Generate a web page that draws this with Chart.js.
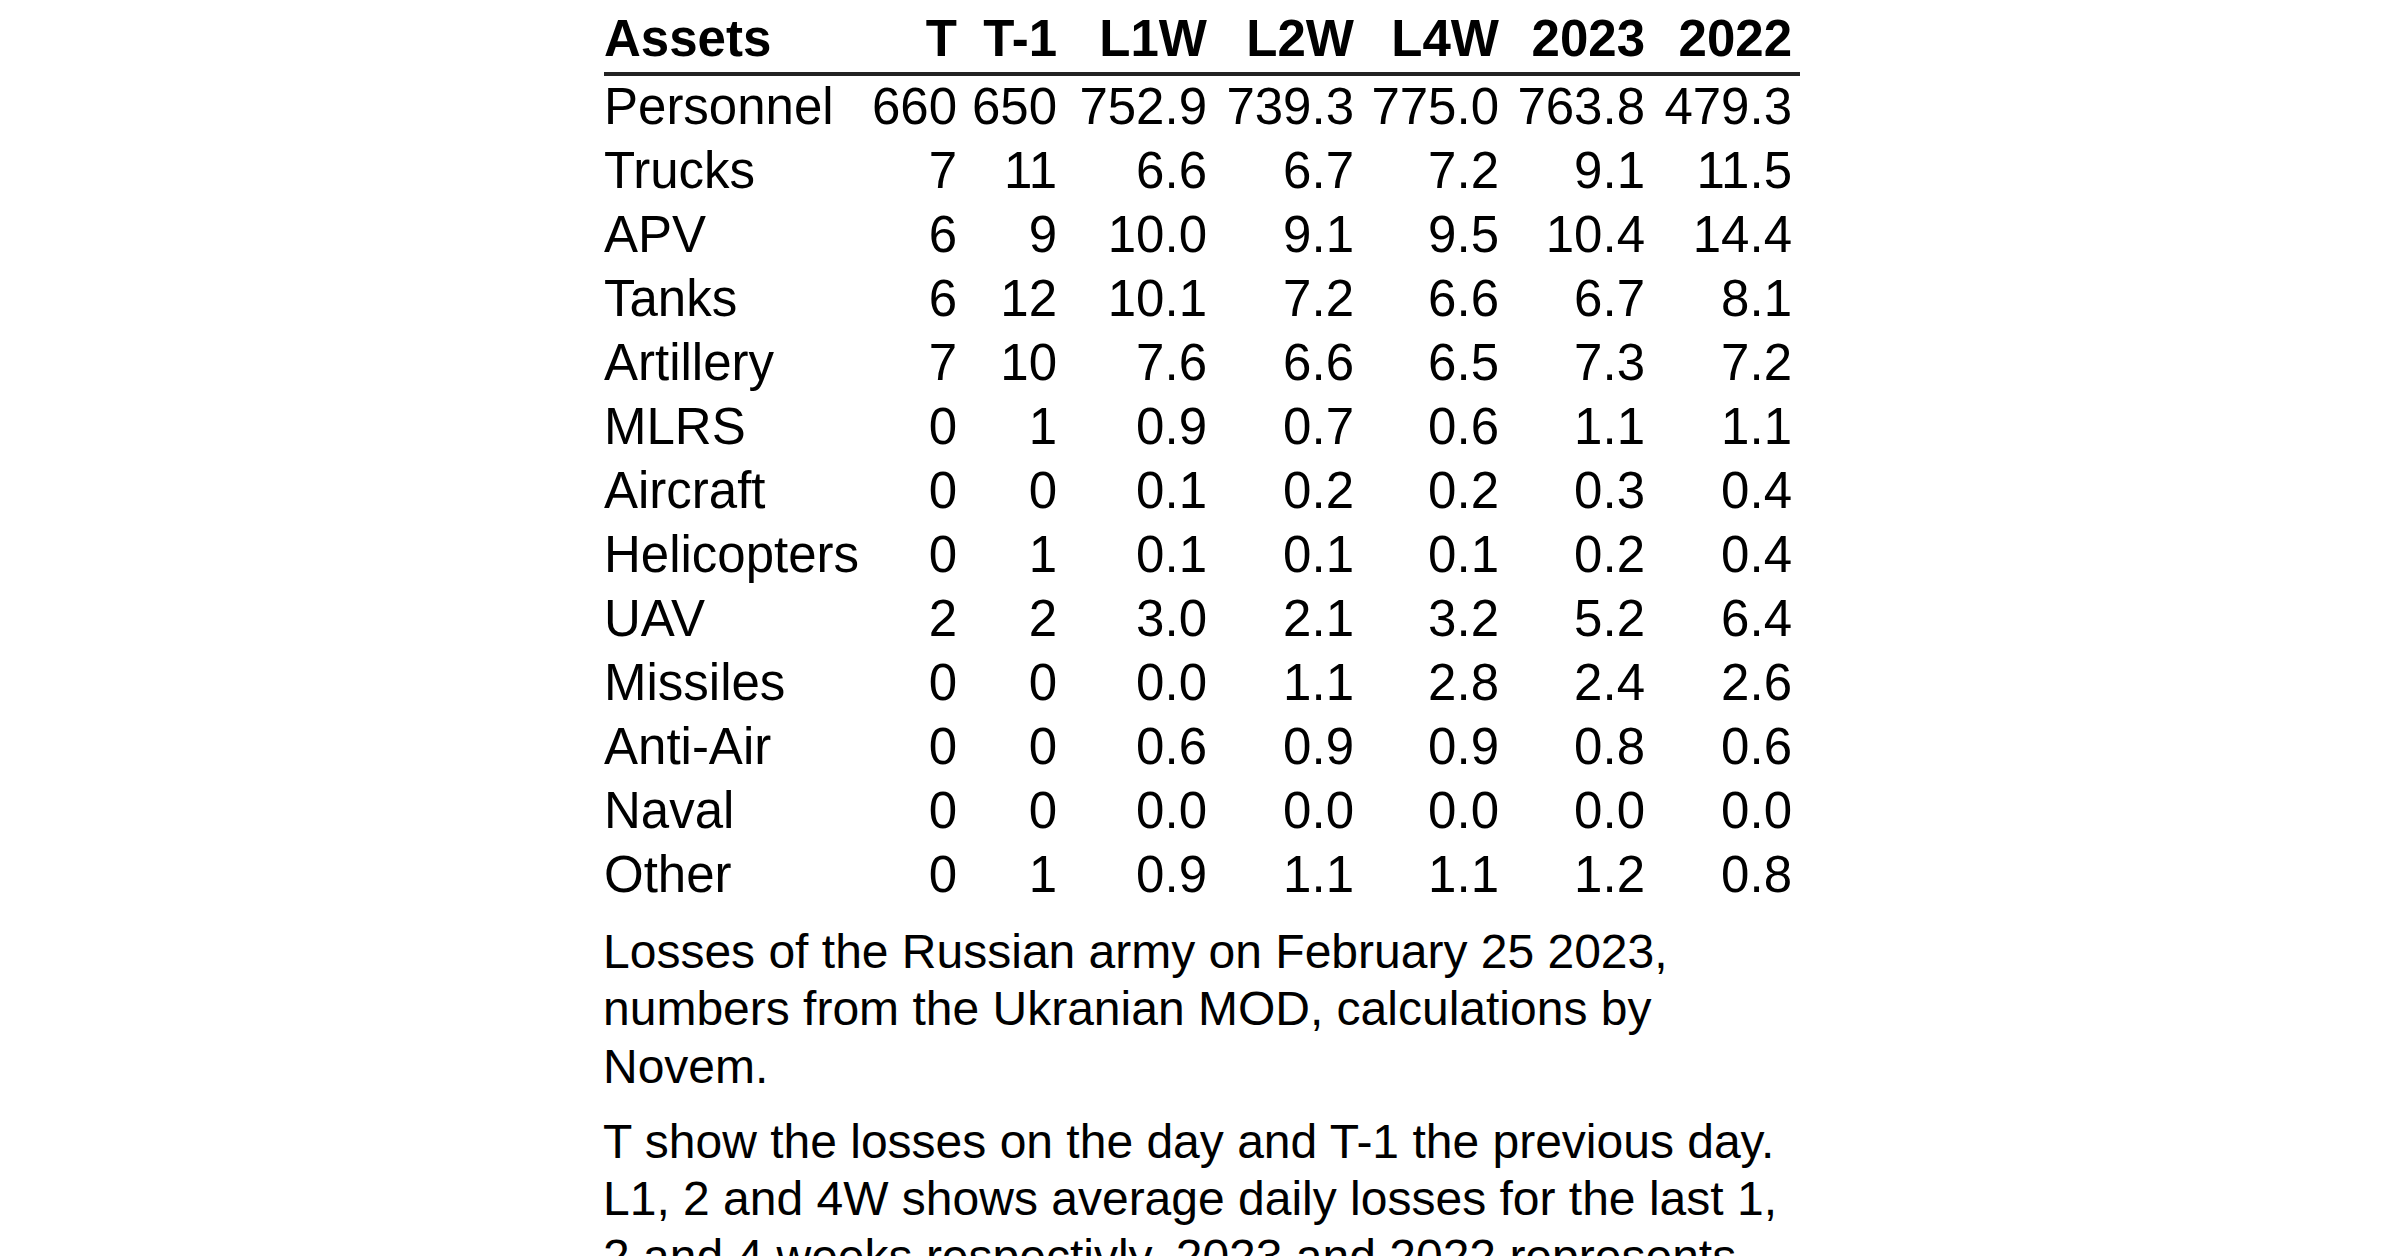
<!DOCTYPE html>
<html>
<head>
<meta charset="utf-8">
<title>Losses of the Russian army</title>
<script src="https://cdn.jsdelivr.net/npm/chart.js@4.4.1/dist/chart.umd.min.js"></script>
<style>
  html, body { margin: 0; padding: 0; background: #fff; }
  body { width: 2400px; height: 1256px; overflow: hidden; position: relative; }
  #tableWrap { position: absolute; left: 604px; top: 0; width: 1196px; height: 910px; }
  #caption {
    position: absolute; left: 603px; top: 922.6px; width: 1200px;
    font-family: "Liberation Sans", Arial, sans-serif; font-size: 48px;
    line-height: 57.5px; color: #000;
  }
  #caption p { margin: 0 0 17.5px 0; white-space: nowrap; }
</style>
</head>
<body>
<div id="tableWrap"><canvas id="lossTable"></canvas></div>
<div id="caption">
  <p>Losses of the Russian army on February 25 2023,<br>numbers from the Ukranian MOD, calculations by<br>Novem.</p>
  <p>T show the losses on the day and T-1 the previous day.<br>L1, 2 and 4W shows average daily losses for the last 1,<br>2 and 4 weeks respectivly, 2023 and 2022 represents</p>
</div>
<script>
"use strict";

// table data
const assets = ['Personnel', 'Trucks', 'APV', 'Tanks', 'Artillery', 'MLRS', 'Aircraft',
                'Helicopters', 'UAV', 'Missiles', 'Anti-Air', 'Naval', 'Other'];
const columns = ['T', 'T-1', 'L1W', 'L2W', 'L4W', '2023', '2022'];

const lossT    = [660, 7, 6, 6, 7, 0, 0, 0, 2, 0, 0, 0, 0];
const lossT1   = [650, 11, 9, 12, 10, 1, 0, 1, 2, 0, 0, 0, 1];
const avgL1W   = [752.9, 6.6, 10.0, 10.1, 7.6, 0.9, 0.1, 0.1, 3.0, 0.0, 0.6, 0.0, 0.9];
const avgL2W   = [739.3, 6.7, 9.1, 7.2, 6.6, 0.7, 0.2, 0.1, 2.1, 1.1, 0.9, 0.0, 1.1];
const avgL4W   = [775.0, 7.2, 9.5, 6.6, 6.5, 0.6, 0.2, 0.1, 3.2, 2.8, 0.9, 0.0, 1.1];
const avg2023  = [763.8, 9.1, 10.4, 6.7, 7.3, 1.1, 0.3, 0.2, 5.2, 2.4, 0.8, 0.0, 1.2];
const avg2022  = [479.3, 11.5, 14.4, 8.1, 7.2, 1.1, 0.4, 0.4, 6.4, 2.6, 0.6, 0.0, 0.8];

const series = [lossT, lossT1, avgL1W, avgL2W, avgL4W, avg2023, avg2022];
const decimals = [0, 0, 1, 1, 1, 1, 1];

// layout: width of the name column and of every value column (px)
const nameColWidth = 353 - 85;
const colWidths = [85, 100, 150, 147, 145, 146, 147];
const tableWidth = 1196;

const FONT = '"Liberation Sans", Arial, sans-serif';
const FONT_SIZE = 51;
const capShift = FONT_SIZE * 0.358;   // puts the cap height centred on the row
const headerLift = 4;                 // header sits a bit higher above the rule

// right edge of each value column, on the x scale
const colRight = [];
colWidths.reduce((acc, w) => { colRight.push(acc + w); return acc + w; }, nameColWidth);

const datasets = [{
  label: 'Assets',
  align: 'left',
  data: assets.map(a => ({ x: 0, y: a, text: a }))
}];
columns.forEach((col, c) => {
  datasets.push({
    label: col,
    align: 'right',
    data: assets.map((a, i) => ({ x: colRight[c], y: a, text: series[c][i].toFixed(decimals[c]) }))
  });
});

// draws header, rule and cell texts at the points placed by the scales
const tableText = {
  id: 'tableText',
  afterDatasetsDraw(chart) {
    const { ctx, chartArea, scales: { y } } = chart;
    ctx.save();
    ctx.fillStyle = '#000';
    ctx.textBaseline = 'alphabetic';

    const headerY = y.getPixelForValue(0);
    const firstY = y.getPixelForValue(1);
    ctx.font = 'bold ' + FONT_SIZE + 'px ' + FONT;
    chart.data.datasets.forEach((ds, di) => {
      const pt = chart.getDatasetMeta(di).data[0];
      ctx.textAlign = ds.align;
      ctx.fillText(ds.label, pt.x, headerY + capShift - headerLift);
    });

    ctx.strokeStyle = '#222';
    ctx.lineWidth = 4;
    ctx.beginPath();
    const ruleY = (headerY + firstY) / 2;
    ctx.moveTo(chartArea.left, ruleY);
    ctx.lineTo(chartArea.right, ruleY);
    ctx.stroke();

    ctx.font = FONT_SIZE + 'px ' + FONT;
    chart.data.datasets.forEach((ds, di) => {
      ctx.textAlign = ds.align;
      chart.getDatasetMeta(di).data.forEach((pt, i) => {
        ctx.fillText(ds.data[i].text, pt.x, pt.y + capShift);
      });
    });
    ctx.restore();
  }
};

new Chart(document.getElementById('lossTable'), {
  type: 'scatter',
  data: { datasets },
  options: {
    responsive: true,
    maintainAspectRatio: false,
    animation: false,
    events: [],
    layout: { padding: { top: 10, bottom: 4, left: 0, right: 0 } },
    elements: { point: { radius: 0, hoverRadius: 0 } },
    plugins: { legend: { display: false }, tooltip: { enabled: false } },
    scales: {
      x: { type: 'linear', min: 0, max: tableWidth, display: false },
      y: { type: 'category', labels: ['Assets', ...assets], offset: true, display: false }
    }
  },
  plugins: [tableText]
});
</script>
</body>
</html>
